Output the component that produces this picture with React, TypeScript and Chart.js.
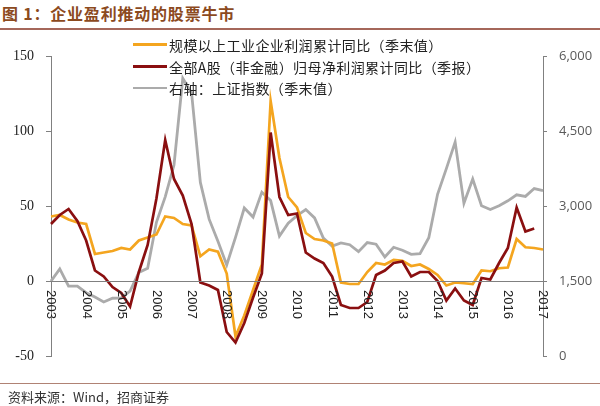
import React, { useEffect, useRef } from "react";
import { Chart, registerables } from "chart.js";

Chart.register(...registerables);

// quarter-end points, 2003Q4 .. 2017Q4
const quarters: string[] = [
  "2003Q4",
  "2004Q1", "2004Q2", "2004Q3", "2004Q4",
  "2005Q1", "2005Q2", "2005Q3", "2005Q4",
  "2006Q1", "2006Q2", "2006Q3", "2006Q4",
  "2007Q1", "2007Q2", "2007Q3", "2007Q4",
  "2008Q1", "2008Q2", "2008Q3", "2008Q4",
  "2009Q1", "2009Q2", "2009Q3", "2009Q4",
  "2010Q1", "2010Q2", "2010Q3", "2010Q4",
  "2011Q1", "2011Q2", "2011Q3", "2011Q4",
  "2012Q1", "2012Q2", "2012Q3", "2012Q4",
  "2013Q1", "2013Q2", "2013Q3", "2013Q4",
  "2014Q1", "2014Q2", "2014Q3", "2014Q4",
  "2015Q1", "2015Q2", "2015Q3", "2015Q4",
  "2016Q1", "2016Q2", "2016Q3", "2016Q4",
  "2017Q1", "2017Q2", "2017Q3", "2017Q4",
];

// x tick labels, one per year (shown at every 4th point)
const yearTicks: string[] = [
  "2003", "2004", "2005", "2006", "2007", "2008", "2009", "2010",
  "2011", "2012", "2013", "2014", "2015", "2016", "2017",
];

// 规模以上工业企业利润累计同比（季末值） %
const industrialProfit: number[] = [
  43, 44, 41, 39, 38, 18, 19, 20, 22, 21, 27, 29, 31, 43, 42, 38, 37,
  16.5, 21, 19.5, 5, -37, -23, -6, 11, 120, 82, 56, 49, 32, 28, 27, 25,
  -1, -2, -2, 6, 12, 11, 14, 13.5, 10, 11, 8, 4, -3, -1, -1.5, -2,
  7, 6.5, 8.5, 9, 28, 22.5, 22, 21,
];

// 全部A股（非金融）归母净利润累计同比（季报） %
const aShareProfit: number[] = [
  38, 44, 48, 40, 27, 7, 3, -4, -8, -17, 6, 24, 55, 94, 68, 57, 38,
  -1, -3, -6, -34, -41, -28, -11, 5, 99, 56, 44, 45, 19, 15, 12, 3,
  -16, -18, -18, -14, 4, 7, 12, 13, 3, 6, 6, 0, -13, -5, -13, -16,
  2, 1, 12, 22, 49, 33, 35,
];

// 右轴：上证指数（季末值）
const shIndex: number[] = [
  1497, 1742, 1399, 1396, 1266, 1181, 1080, 1155, 1161, 1299, 1672, 1753,
  2675, 3183, 3820, 5552, 5261, 3472, 2736, 2293, 1821, 2373, 2959, 2779,
  3277, 3109, 2398, 2655, 2808, 2928, 2762, 2359, 2199, 2263, 2225, 2086,
  2269, 2237, 1979, 2175, 2116, 2033, 2048, 2364, 3235, 3748, 4277, 3053,
  3539, 3004, 2930, 3005, 3104, 3223, 3192, 3349, 3307,
];

const seriesNames: string[] = [
  "规模以上工业企业利润累计同比（季末值）",
  "全部A股（非金融）归母净利润累计同比（季报）",
  "右轴：上证指数（季末值）",
];

const ORANGE = "#F4A51F";
const RED = "#8A0F10";
const GRAY = "#ABABAB";
const AXIS = "#808080";

const xAxisPlugin = {
  id: "xAxisAtZero",
  afterDatasetsDraw(chart: any) {
    const { ctx, chartArea, scales } = chart;
    const xs = scales.x;
    const ys = scales.y;
    const y0 = ys.getPixelForValue(0);
    ctx.save();
    ctx.strokeStyle = AXIS;
    ctx.lineWidth = 1;
    ctx.beginPath();
    ctx.moveTo(chartArea.left, Math.round(y0) + 0.5);
    ctx.lineTo(chartArea.right, Math.round(y0) + 0.5);
    ctx.stroke();
    ctx.fillStyle = "#222";
    ctx.font = '13px "Liberation Sans", Arial, sans-serif';
    ctx.textAlign = "left";
    ctx.textBaseline = "middle";
    for (let k = 0; k < yearTicks.length; k++) {
      const x = xs.getPixelForValue(k * 4);
      ctx.save();
      ctx.translate(x, y0 + 9);
      ctx.rotate(Math.PI / 2);
      ctx.fillText(yearTicks[k], 0, 0);
      ctx.restore();
    }
    ctx.restore();
  },
};

export default function App() {
  const canvasRef = useRef<HTMLCanvasElement | null>(null);

  useEffect(() => {
    if (!canvasRef.current) return;
    const chart = new Chart(canvasRef.current, {
      type: "line",
      data: {
        labels: quarters,
        datasets: [
          {
            label: seriesNames[0],
            data: industrialProfit,
            borderColor: ORANGE,
            backgroundColor: ORANGE,
            borderWidth: 2.7,
            pointRadius: 0,
            tension: 0,
            yAxisID: "y",
            order: 2,
          },
          {
            label: seriesNames[1],
            data: aShareProfit,
            borderColor: RED,
            backgroundColor: RED,
            borderWidth: 2.7,
            pointRadius: 0,
            tension: 0,
            yAxisID: "y",
            order: 1,
          },
          {
            label: seriesNames[2],
            data: shIndex,
            borderColor: GRAY,
            backgroundColor: GRAY,
            borderWidth: 2.8,
            pointRadius: 0,
            tension: 0,
            yAxisID: "y1",
            order: 3,
          },
        ],
      },
      options: {
        responsive: false,
        animation: false,
        devicePixelRatio: 1,
        layout: { padding: { top: 56, bottom: 50, left: 0, right: 0 } },
        plugins: {
          legend: { display: false },
          tooltip: { enabled: false },
          title: { display: false },
        },
        scales: {
          x: {
            type: "category",
            display: false,
            offset: false,
          },
          y: {
            position: "left",
            min: -50,
            max: 150,
            afterFit: (s: any) => {
              s.width = 51;
            },
            ticks: {
              stepSize: 50,
              padding: 12,
              color: "#222",
              font: { family: '"Liberation Serif", "Times New Roman", serif', size: 14 },
            },
            grid: {
              display: true,
              drawOnChartArea: false,
              drawTicks: true,
              tickLength: 5,
              color: AXIS,
            },
            border: { display: true, color: AXIS, width: 1 },
          },
          y1: {
            position: "right",
            min: 0,
            max: 6000,
            afterFit: (s: any) => {
              s.width = 57;
            },
            ticks: {
              stepSize: 1500,
              padding: 12,
              color: "#595959",
              font: { family: '"Open Sans", sans-serif', size: 13 },
              callback: (v: any) => Number(v).toLocaleString("en-US"),
            },
            grid: {
              display: true,
              drawOnChartArea: false,
              drawTicks: true,
              tickLength: 4,
              color: AXIS,
            },
            border: { display: true, color: AXIS, width: 1 },
          },
        },
      },
      plugins: [xAxisPlugin],
    });
    return () => chart.destroy();
  }, []);

  const legendColors = [ORANGE, RED, GRAY];
  const legendTops = [44.5, 66.5, 88];

  return (
    <div
      style={{
        position: "absolute",
        left: 0,
        top: 0,
        width: 600,
        height: 406,
        background: "#fff",
        overflow: "hidden",
        fontFamily: '"Noto Sans CJK SC", sans-serif',
      }}
    >
      <div
        style={{
          position: "absolute",
          left: 2,
          top: 2,
          fontSize: 16,
          lineHeight: "22px",
          fontWeight: "bold",
          color: "#8C4A1E",
          letterSpacing: 0.8,
          whiteSpace: "nowrap",
        }}
      >
        图 1：企业盈利推动的股票牛市
      </div>
      <div
        style={{
          position: "absolute",
          left: 0,
          top: 28,
          width: 600,
          height: 2,
          background: "#A5675A",
        }}
      />
      <canvas
        ref={canvasRef}
        width={600}
        height={406}
        style={{ position: "absolute", left: 0, top: 0, width: 600, height: 406 }}
      />
      {seriesNames.map((name, i) => (
        <div
          key={name}
          style={{
            position: "absolute",
            left: 133,
            top: legendTops[i] - 10,
            height: 20,
            display: "flex",
            alignItems: "center",
            whiteSpace: "nowrap",
            fontSize: 14,
            color: "#222",
            letterSpacing: 0.4,
          }}
        >
          <span
            style={{
              display: "inline-block",
              width: 34,
              height: 2.5,
              background: legendColors[i],
              marginRight: 2,
            }}
          />
          <span>{name}</span>
        </div>
      ))}
      <div
        style={{
          position: "absolute",
          left: 0,
          top: 383,
          width: 600,
          height: 1,
          background: "#B08274",
        }}
      />
      <div
        style={{
          position: "absolute",
          left: 8,
          top: 388,
          fontSize: 13,
          lineHeight: "18px",
          color: "#333",
          whiteSpace: "nowrap",
        }}
      >
        资料来源：Wind，招商证券
      </div>
    </div>
  );
}
